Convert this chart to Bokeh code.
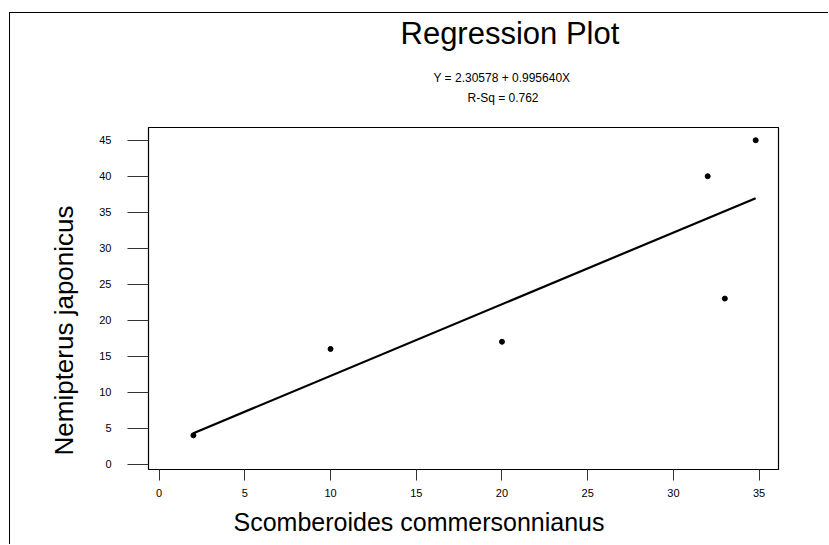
from bokeh.plotting import figure
from bokeh.models import Range1d, FixedTicker, Title
from bokeh.embed import file_html
from bokeh.resources import INLINE

# ---- data ----
x_vals = [2, 10, 20, 32, 33, 34.8]
y_vals = [4, 16, 17, 40, 23, 45]
fit_x = [2, 34.8]
fit_y = [4.3, 36.95]
x_ticks = [0, 5, 10, 15, 20, 25, 30, 35]
y_ticks = [0, 5, 10, 15, 20, 25, 30, 35, 40, 45]
title_text = "Regression Plot"
eq_text = "Y = 2.30578 + 0.995640X"
rsq_text = "R-Sq = 0.762"
x_title = "Scomberoides commersonnianus"
y_title = "Nemipterus japonicus"

FONT = "Liberation Sans"

p = figure(width=819, height=532, output_backend="svg", toolbar_location=None,
           x_range=Range1d(-0.62, 36.13), y_range=Range1d(-0.75, 46.77),
           min_border_left=138, min_border_right=51, min_border_top=114,
           min_border_bottom=76)
p.margin = (12, 0, 0, 9)
p.styles = {"border-top": "1px solid black", "border-left": "1px solid black"}

p.background_fill_color = "white"
p.border_fill_color = "white"
p.outline_line_color = "black"
p.outline_line_width = 1.2
p.grid.visible = False

for ax in (p.xaxis[0], p.yaxis[0]):
    ax.axis_line_color = None
    ax.minor_tick_line_color = None
    ax.major_tick_in = 0
    ax.major_tick_line_color = "#333333"
    ax.major_tick_line_width = 1
    ax.major_label_text_font = FONT
    ax.major_label_text_font_size = "11px"
    ax.major_label_text_color = "black"

p.xaxis[0].ticker = FixedTicker(ticks=x_ticks)
p.yaxis[0].ticker = FixedTicker(ticks=y_ticks)
p.xaxis[0].major_tick_out = 11
p.xaxis[0].major_label_standoff = 8
p.yaxis[0].major_tick_out = 21
p.yaxis[0].major_label_standoff = 16

p.line(fit_x, fit_y, line_color="black", line_width=2.2)
p.scatter(x_vals, y_vals, size=5, color="black")


def add_title(text, loc, size, offset, standoff):
    p.add_layout(Title(text=text, align="left", offset=offset, text_font=FONT,
                       text_font_size=size, text_font_style="normal",
                       text_color="black", standoff=standoff), loc)


# "above" panels are stacked outward from the frame; " " titles act as spacers
add_title(" ", "above", "1px", 0, 20)
add_title(rsq_text, "above", "12px", 319, 0)
add_title(eq_text, "above", "12px", 285, 8)
add_title(" ", "above", "1px", 0, 11)
add_title(title_text, "above", "31px", 252, 0)
add_title(x_title, "below", "25px", 85, 12)
add_title(y_title, "left", "26px", 14, 36)

open("out.html", "w").write(file_html(p, INLINE))
